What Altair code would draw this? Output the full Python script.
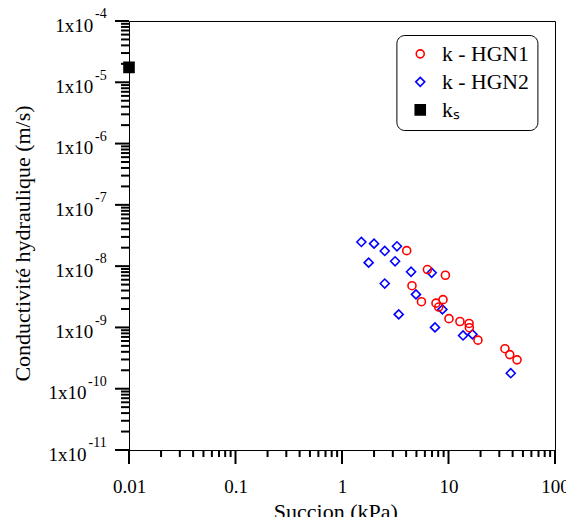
import altair as alt
import pandas as pd

# ---- data ----
hgn1_succion = [4.05, 6.34, 9.35, 4.54, 5.57, 7.63, 8.88, 8.09, 10.1, 12.8, 15.6, 15.7, 18.9, 33.9, 37.6, 44.0]
hgn1_k = [1.79e-8, 8.8e-9, 7.1e-9, 4.8e-9, 2.63e-9, 2.49e-9, 2.84e-9, 2.15e-9, 1.39e-9, 1.25e-9,
          1.16e-9, 9.9e-10, 6.2e-10, 4.5e-10, 3.6e-10, 2.96e-10]
hgn2_succion = [1.52, 2.0, 2.52, 3.28, 1.78, 3.15, 4.45, 6.95, 2.52, 4.95, 8.77, 3.41, 7.47, 13.7, 16.8, 38.4]
hgn2_k = [2.48e-8, 2.33e-8, 1.77e-8, 2.11e-8, 1.14e-8, 1.20e-8, 8.1e-9, 7.8e-9, 5.2e-9, 3.46e-9,
          1.97e-9, 1.63e-9, 1.0e-9, 7.4e-10, 7.7e-10, 1.79e-10]
ks_succion = [0.01]
ks_k = [1.75e-5]

series = ["k - HGN1", "k - HGN2", "kₛ"]
series_colors = ["#ff0000", "#0000ff", "#000000"]
series_fills = ["transparent", "transparent", "#000000"]
series_shapes = ["circle", "diamond", "square"]
series_sizes = [64, 81, 100]

x_major = [0.01, 0.1, 1, 10, 100]
y_major = [1e-11, 1e-10, 1e-9, 1e-8, 1e-7, 1e-6, 1e-5, 1e-4]
y_base = ["1x10"] * 8
y_exponents = ["-11", "-10", "-9", "-8", "-7", "-6", "-5", "-4"]
minor_mult = [2, 3, 4, 5, 6, 7, 8, 9]

x_minor = [m * d for d in x_major[:-1] for m in minor_mult]
y_minor = [m * d for d in y_major[:-1] for m in minor_mult]

FONT = "Liberation Serif"
W, H = 426, 429
TICK_W = 2
TICK_C = "#000000"

rows = []
for s, k in zip(hgn2_succion, hgn2_k):
    rows.append({"s": s, "k": k, "serie": series[1]})
for s, k in zip(hgn1_succion, hgn1_k):
    rows.append({"s": s, "k": k, "serie": series[0]})
for s, k in zip(ks_succion, ks_k):
    rows.append({"s": s, "k": k, "serie": series[2]})
df = pd.DataFrame(rows)

lab_df = pd.DataFrame({"v": y_major, "b": y_base, "e": y_exponents})
lab_df["two"] = lab_df["e"].str.len() > 2

ytick_major_df = pd.DataFrame({"v": y_major})
ytick_minor_df = pd.DataFrame({"v": y_minor})
xtick_major_df = pd.DataFrame({"v": x_major})
xtick_minor_df = pd.DataFrame({"v": x_minor})

xscale = alt.Scale(type="log", domain=[0.01, 100], nice=False)
yscale = alt.Scale(type="log", domain=[1e-11, 1e-4], nice=False)

xaxis = alt.Axis(
    values=x_major,
    labelExpr="toString(datum.value)",
    ticks=False,
    domain=False,
    labelBaseline="alphabetic",
    labelPadding=42.5,
    labelFlush=False,
    labelOverlap=False,
    grid=False,
    orient="bottom",
    title="Succion (kPa)",
    titleX=206.3,
    titleY=68,
    titleBaseline="alphabetic",
    titleAlign="center",
)
yaxis = alt.Axis(
    values=y_major,
    ticks=False,
    domain=False,
    labels=False,
    grid=False,
    orient="left",
    title="Conductivité hydraulique (m/s)",
    titleX=-100,
    titleY=222,
    titleAngle=270,
    titleBaseline="alphabetic",
    titleAlign="center",
)

leg = alt.Legend(title=None, orient="none", legendX=267.4, legendY=14)

points = alt.Chart(df).mark_point(opacity=1, strokeWidth=1.6).encode(
    x=alt.X("s:Q", scale=xscale, axis=xaxis),
    y=alt.Y("k:Q", scale=yscale, axis=yaxis),
    shape=alt.Shape("serie:N", scale=alt.Scale(domain=series, range=series_shapes), legend=leg),
    stroke=alt.Stroke("serie:N", scale=alt.Scale(domain=series, range=series_colors), legend=leg),
    fill=alt.Fill("serie:N", scale=alt.Scale(domain=series, range=series_fills), legend=leg),
    size=alt.Size("serie:N", scale=alt.Scale(type="ordinal", domain=series, range=series_sizes), legend=leg),
)

# outward tick marks, positioned through the shared log scales
def ytick_layer(data, length):
    return alt.Chart(data).mark_rule(color=TICK_C, strokeWidth=TICK_W, opacity=1).encode(
        y=alt.Y("v:Q", scale=yscale, axis=None),
        x=alt.value(-length),
        x2=alt.value(0),
    )

def xtick_layer(data, length):
    return alt.Chart(data).mark_rule(color=TICK_C, strokeWidth=TICK_W, opacity=1).encode(
        x=alt.X("v:Q", scale=xscale, axis=None),
        y=alt.value(H),
        y2=alt.value(H + length),
    )

def base_layer(two, dx):
    return alt.Chart(lab_df).transform_filter(
        f"datum.two == {'true' if two else 'false'}"
    ).mark_text(
        align="right", baseline="alphabetic", dx=dx, dy=10.7, fontSize=19, font=FONT, color="black"
    ).encode(
        x=alt.XDatum(0.01, scale=xscale, axis=None),
        y=alt.Y("v:Q", scale=yscale, axis=None),
        text="b:N",
    )

exps = alt.Chart(lab_df).mark_text(
    align="right", baseline="alphabetic", dx=-22.3, dy=-2.7, fontSize=14, font=FONT, color="black"
).encode(
    x=alt.XDatum(0.01, scale=xscale, axis=None),
    y=alt.Y("v:Q", scale=yscale, axis=None),
    text="e:N",
)

chart = alt.layer(
    points,
    base_layer(False, -35.7), base_layer(True, -42.4), exps,
    ytick_layer(ytick_major_df, 14), ytick_layer(ytick_minor_df, 8),
    xtick_layer(xtick_major_df, 14), xtick_layer(xtick_minor_df, 7),
).resolve_axis(
    x="independent", y="independent"
).properties(
    width=W,
    height=H,
    autosize=alt.AutoSizeParams(type="none"),
    padding={"left": 121, "top": 13, "right": 11, "bottom": 67},
).configure_view(
    stroke="black", strokeWidth=1
).configure_axis(
    labelFont=FONT, titleFont=FONT, labelFontSize=19, titleFontSize=22,
    labelColor="black", titleColor="black", titleFontWeight="normal",
).configure_legend(
    strokeColor="black", cornerRadius=8, padding=8, fillColor="white",
    labelFont=FONT, labelFontSize=21.7, labelColor="black",
    symbolStrokeWidth=1.6, symbolOffset=5, labelOffset=11, rowPadding=5,
)

chart.save("out.html", embed_options={"renderer": "svg", "actions": False})
